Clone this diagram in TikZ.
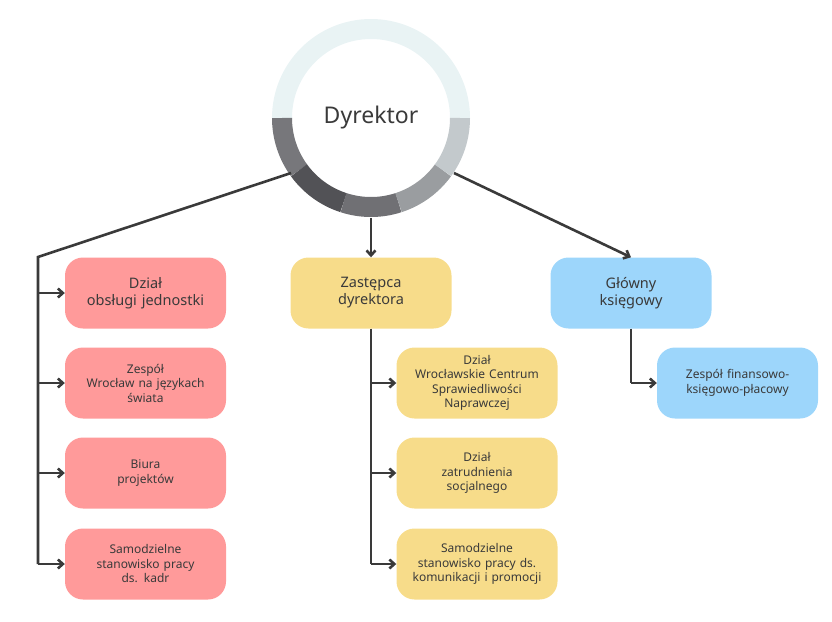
\documentclass[tikz,border=0pt]{standalone}
\usepackage{fontspec}
\setmainfont{Noto Sans}
\usetikzlibrary{arrows.meta}
\definecolor{cr}{HTML}{FF9A9A}
\definecolor{cy}{HTML}{F7DC8A}
\definecolor{cb}{HTML}{9DD6FB}
\definecolor{ln}{HTML}{3A3A3A}
\definecolor{rtop}{HTML}{E9F3F4}
\definecolor{s1}{HTML}{77777B}
\definecolor{s2}{HTML}{525256}
\definecolor{s3}{HTML}{707074}
\definecolor{s4}{HTML}{9A9DA0}
\definecolor{s5}{HTML}{C3C9CC}
\begin{document}
\begin{tikzpicture}[x=1pt,y=-1pt,
 box/.style={fill=#1,rounded corners=18pt,minimum width=161pt,minimum height=71pt,inner sep=2pt,text width=150pt,align=center,font=\fontsize{12}{14.5}\selectfont,text=ln},
 big/.style={font=\fontsize{14.5}{17}\selectfont\bfseries},
 con/.style={draw=ln,line width=2.6pt,-{Straight Barb[length=5pt,width=9pt]}},
 plain/.style={draw=ln,line width=2.6pt}]
\useasboundingbox (0,0) rectangle (832,621);
% ring (y axis flipped: angles measured clockwise on screen)
\def\cx{371}\def\cy{118}
\draw[rtop,line width=20pt] (\cx,\cy) ++(180:89) arc[start angle=180,end angle=360,radius=89];
\foreach \a/\c in {180/s1,144/s2,108/s3,72/s4,36/s5}{
 \draw[\c,line width=20pt] (\cx,\cy) ++(\a:89) arc[start angle=\a,end angle=\a-36,radius=89];
}
\node[font=\fontsize{23}{26}\selectfont\bfseries,text=ln] (dir) at (\cx,\cy) {Dyrektor};
\coordinate (cl) at (291,173);
\coordinate (cb) at (371,218);
\coordinate (cr) at (454,173);
% boxes
\node[box=cr,big] (a1) at (145.5,293) {Dział\\obsługi jednostki};
\node[box=cr] (a2) at (145.5,383) {Zespół\\Wrocław na językach\\świata};
\node[box=cr] (a3) at (145.5,473) {Biura\\projektów};
\node[box=cr] (a4) at (145.5,564) {Samodzielne\\stanowisko pracy\\ds. kadr};
\node[box=cy,big] (b1) at (371,293) {Zastępca\\dyrektora};
\node[box=cy] (b2) at (477,383) {Dział\\Wrocławskie Centrum\\Sprawiedliwości\\Naprawczej};
\node[box=cy] (b3) at (477,473) {Dział\\zatrudnienia\\socjalnego};
\node[box=cy] (b4) at (477,564) {Samodzielne\\stanowisko pracy ds.\\komunikacji i promocji};
\node[box=cb,big] (c1) at (631,293) {Główny\\księgowy};
\node[box=cb] (c2) at (737.5,383) {Zespół finansowo-\\księgowo-płacowy};
% connectors
\coordinate (lt) at (38,257);
\coordinate (lb) at (38,564);
\draw[plain] (cl) -- (lt) -- (lb);
\foreach \n in {a1,a2,a3,a4} \draw[con] (lt |- \n.west) -- (\n.west);
\draw[con] (cb) -- (b1.north);
\coordinate (mb) at (371,564);
\draw[plain] (b1.south) -- (mb);
\foreach \n in {b2,b3,b4} \draw[con] (mb |- \n.west) -- (\n.west);
\draw[con] (cr) -- (c1.north);
\coordinate (rc) at (631,383);
\draw[plain] (c1.south) -- (rc);
\draw[con] (rc) -- (c2.west);
\end{tikzpicture}
\end{document}
